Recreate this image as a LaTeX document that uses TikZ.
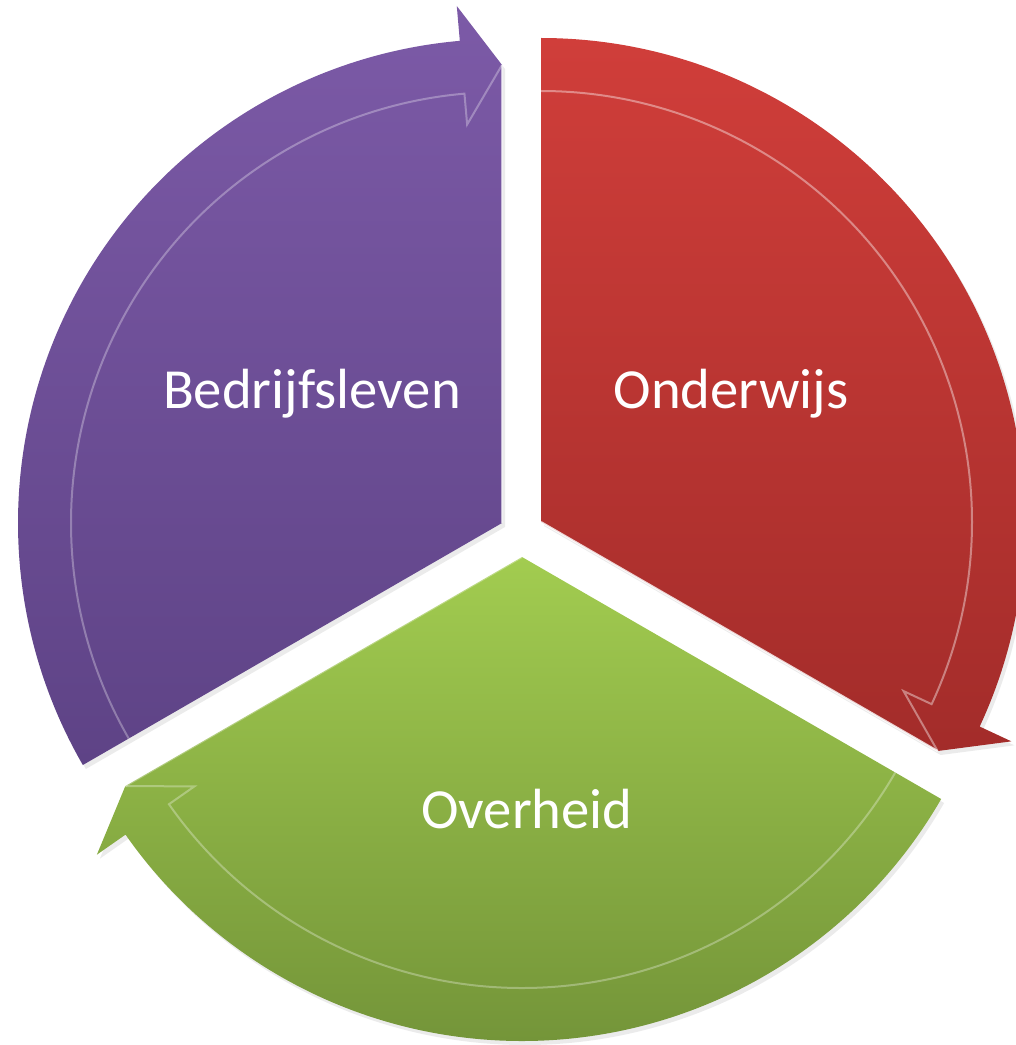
\documentclass[tikz,border=0pt]{standalone}
\usepackage{fontspec}
\setmainfont{Carlito}

\definecolor{purpletop}{RGB}{124,90,167}
\definecolor{purplebot}{RGB}{94,67,134}
\definecolor{redtop}{RGB}{208,62,58}
\definecolor{redbot}{RGB}{163,44,42}
\definecolor{greentop}{RGB}{162,204,80}
\definecolor{greenbot}{RGB}{116,149,57}

\tikzset{every picture/.style={line width=0.75pt}}
\tikzset{
  segtext/.style={anchor=base, text=white, font=\fontsize{42.5}{50}\selectfont},
  bevel/.style={draw=white, draw opacity=0.3, line width=1.5},
  shadowfill/.style={fill=black, fill opacity=0.08, shift={(3,4)}}
}

\begin{document}
\begin{tikzpicture}[x=0.75pt,y=0.75pt,yscale=-1,xscale=1]
\useasboundingbox (0,0) rectangle (1016,1045);
\clip (0,0) rectangle (1016,1045);

%Shape: Sector with arrow (purple)
\begin{scope}[shift={(502,523)}]
\fill [shadowfill] (0,0) -- (150:484) arc [start angle=150, end angle=265, radius=484] -- (265:519) -- (270:458) -- cycle ;
\shade [top color=purpletop, bottom color=purplebot] (0,0) -- (150:484) arc [start angle=150, end angle=265, radius=484] -- (265:519) -- (270:458) -- cycle ;
\draw [bevel] (150:431) arc [start angle=150, end angle=265, radius=431] -- (265:400) -- (270:458) ;
\draw [bevel, draw opacity=0.6] (270:458) -- (0,0) ;
\end{scope}

%Shape: Sector with arrow (red)
\begin{scope}[shift={(541,522)}]
\fill [shadowfill] (0,0) -- (-90:484) arc [start angle=-90, end angle=25, radius=484] -- (25:519) -- (30:458) -- cycle ;
\shade [top color=redtop, bottom color=redbot] (0,0) -- (-90:484) arc [start angle=-90, end angle=25, radius=484] -- (25:519) -- (30:458) -- cycle ;
\draw [bevel, draw opacity=0.4] (-90:431) arc [start angle=-90, end angle=25, radius=431] -- (25:400) -- (30:458) ;
\draw [bevel, draw opacity=0.8] (30:458) -- (0,0) ;
\end{scope}

%Shape: Sector with arrow (green)
\begin{scope}[shift={(522,557)}]
\fill [shadowfill] (0,0) -- (30:484) arc [start angle=30, end angle=145, radius=484] -- (145:519) -- (150:458) -- cycle ;
\shade [top color=greentop, bottom color=greenbot] (0,0) -- (30:484) arc [start angle=30, end angle=145, radius=484] -- (145:519) -- (150:458) -- cycle ;
\draw [bevel] (30:431) arc [start angle=30, end angle=145, radius=431] -- (145:400) -- (150:458) ;
\draw [bevel, draw opacity=0.3] (150:458) -- (0,0) ;
\end{scope}

% Text Node
\draw (312,408) node [segtext] (bedrijf) {Bedrijfsleven};
% Text Node
\draw (731,408) node [segtext] (onderwijs) {Onderwijs};
% Text Node
\draw (527,828) node [segtext] (overheid) {Overheid};

\end{tikzpicture}
\end{document}
